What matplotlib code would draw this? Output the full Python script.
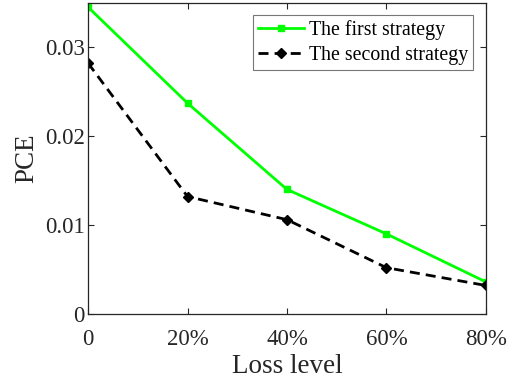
import matplotlib.pyplot as plt
import numpy as np

# PCE versus loss level for two strategies
loss_labels = ['0', '20%', '40%', '60%', '80%']
first_strategy = [0.0345, 0.0237, 0.0140, 0.0090, 0.0036]
second_strategy = [0.0282, 0.0132, 0.0106, 0.0052, 0.0032]

plt.rcParams['font.family'] = ['Liberation Serif', 'DejaVu Serif']

fig = plt.figure(figsize=(5.12, 3.81), dpi=100)
ax = fig.add_axes([0.172, 0.176, 0.777, 0.817])

x = np.arange(len(loss_labels))
ax.plot(x, first_strategy, '-s', color='#00ff00', lw=2, ms=4.5,
        label='The first strategy')
ax.plot(x, second_strategy, '--D', color='black', lw=2, ms=5,
        dashes=(3.6, 2.2), mfc='black', label='The second strategy')

ax.set_xlim(0, 4)
ax.set_ylim(0, 0.035)
ax.set_xticks(x)
ax.set_xticklabels(loss_labels)
ax.set_yticks([0, 0.01, 0.02, 0.03])
ax.set_yticklabels(['0', '0.01', '0.02', '0.03'])
ax.tick_params(direction='in', top=True, right=True, labelsize=16.5,
               length=4, width=0.8, colors='#262626')
ax.tick_params(axis='x', pad=11)
ax.tick_params(axis='y', pad=2.5)
for s in ax.spines.values():
    s.set_linewidth(0.9)
    s.set_color('#262626')

ax.set_xlabel('Loss level', fontsize=19.5, color='#262626', labelpad=3)
ax.set_ylabel('PCE', fontsize=19.5, color='#262626', labelpad=4)

leg = ax.legend(loc='upper right', bbox_to_anchor=(473 / 512, 1 - 15 / 381),
                bbox_transform=fig.transFigure, borderaxespad=0,
                fontsize=14.3, frameon=True, fancybox=False,
                handlelength=2.3, handletextpad=0.25, borderpad=0.25,
                labelspacing=0.3)
leg.get_frame().set_edgecolor('#555555')
leg.get_frame().set_linewidth(0.8)

fig.savefig('out.png', dpi=100)
